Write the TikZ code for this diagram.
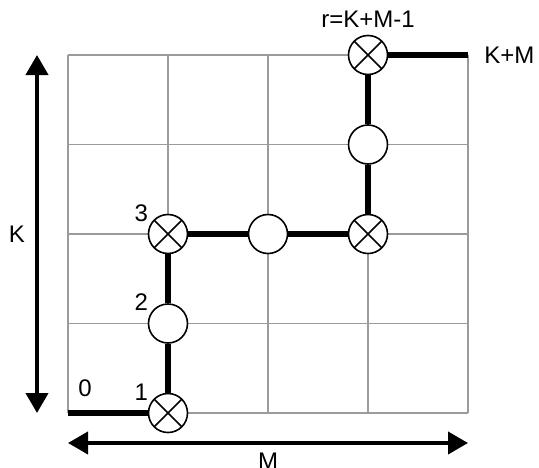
\documentclass[tikz,border=0pt]{standalone}
\usepackage{fontspec}
\setmainfont{Liberation Sans}
\usetikzlibrary{arrows.meta,positioning}
\definecolor{gridGray}{RGB}{155,155,155}
\tikzset{
  gridline/.style={draw=gridGray, line width=0.65pt},
  statenode/.style={
    circle, draw=black, line width=0.8pt, fill=white,
    minimum size=19.5pt, inner sep=0pt
  },
  crossnode/.style={
    statenode,
    path picture={\draw[line width=0.8pt]
      (path picture bounding box.north west) -- (path picture bounding box.south east)
      (path picture bounding box.north east) -- (path picture bounding box.south west);}
  },
  pathline/.style={line width=2.7pt, color=black},
  dimArrow/.style={{Triangle[length=10pt,width=11pt]}-{Triangle[length=10pt,width=11pt]}, line width=2pt},
  numlabel/.style={inner sep=1pt}
}

\begin{document}
\begin{tikzpicture}[x=50pt, y=44.75pt, font=\fontsize{12}{14}\selectfont]
  \useasboundingbox (-34pt,-27pt) rectangle (235.5pt,206.5pt);
  \draw[gridline, step=1] (0,0) grid (4,4);
  % states along the path
  \coordinate (s0) at (0,0);
  \node[crossnode] (s1) at (1,0) {};
  \node[statenode] (s2) at (1,1) {};
  \node[crossnode] (s3) at (1,2) {};
  \node[statenode] (s4) at (2,2) {};
  \node[crossnode] (s5) at (3,2) {};
  \node[statenode] (s6) at (3,3) {};
  \node[crossnode] (sr) at (3,4) {};
  \coordinate (send) at (4,4);
  \draw[pathline] (s0) -- (s1) -- (s2) -- (s3) -- (s4) -- (s5) -- (s6) -- (sr) -- (send);
  % labels
  \node[numlabel, above right=6.7pt and 4pt of s0] (l0) {0};
  \node[numlabel, anchor=south east] (l1) at (s1.150) {1};
  \node[numlabel, anchor=south east] (l2) at (s2.150) {2};
  \node[numlabel, anchor=south east] (l3) at (s3.150) {3};
  \node[numlabel, above=2.4pt of sr] (lr) {r=K+M-1};
  \node[numlabel, right=7pt of send] (lkm) {K+M};
  % dimensions
  \coordinate (kbot) at (-0.31,0);
  \coordinate (ktop) at (-0.31,4);
  \draw[dimArrow] (kbot) -- (ktop);
  \node[numlabel] (lk) at (-0.51,2) {K};
  \coordinate (mleft) at (0,-0.335);
  \coordinate (mright) at (4,-0.335);
  \draw[dimArrow] (mleft) -- node[numlabel, below=3pt] (lm) {M} (mright);
\end{tikzpicture}
\end{document}
